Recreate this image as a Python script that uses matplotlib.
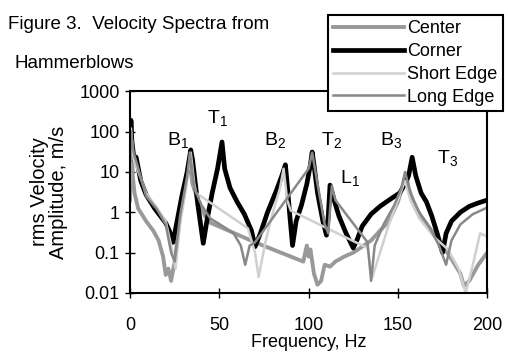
import matplotlib.pyplot as plt

plt.rcParams['font.family'] = ['Liberation Sans', 'DejaVu Sans']
plt.rcParams['mathtext.default'] = 'regular'

# Frequency (Hz) and rms velocity amplitude
center_f = [0, 0.3, 0.7, 1, 1.5, 2.5, 4.5, 9, 13, 16, 18.5, 20, 21.5, 23, 25, 28, 31,
            33, 35, 38, 42, 45, 70, 97, 99, 100, 101, 103, 105, 107, 109, 112, 115,
            120, 125, 130, 135, 140, 145, 150, 153, 154.5, 156, 160, 165, 170, 175,
            180, 185, 187, 190, 195, 200]
center_v = [2, 30, 5, 60, 8, 3, 1.25, 0.6, 0.35, 0.2, 0.08, 0.028, 0.04, 0.02, 0.06,
            0.8, 5, 20, 5, 2, 0.8, 0.55, 0.18, 0.06, 0.15, 0.08, 0.12, 0.03, 0.016,
            0.02, 0.05, 0.045, 0.06, 0.08, 0.1, 0.14, 0.2, 0.35, 0.6, 1.8, 5, 9, 4,
            1.2, 0.6, 0.3, 0.15, 0.07, 0.03, 0.015, 0.02, 0.05, 0.1]

corner_f = [0, 0.5, 1, 2, 3.4, 6, 9, 14, 20, 22, 24, 26, 29, 32, 34, 35, 38, 41, 43,
            46, 49, 51.5, 53, 56, 60, 64, 68, 70, 73, 77, 82, 85, 87, 88, 89.5, 91,
            93, 96, 99, 101, 102, 103, 105, 108, 110, 111, 112, 114, 117, 121, 125,
            127, 130, 135, 140, 145, 151, 154, 156, 158, 160, 163, 166, 169, 172,
            175, 177, 180, 185, 190, 195, 200]
corner_v = [20, 190, 60, 25, 23, 6, 2.7, 1.2, 0.54, 0.35, 0.18, 0.5, 2.5, 10, 35, 20,
            1.5, 0.17, 0.6, 3, 12, 55, 12, 4, 1.8, 0.9, 0.35, 0.14, 0.3, 1, 3.5, 8,
            15, 5, 0.8, 0.15, 0.6, 1.5, 5, 15, 31, 15, 3, 0.6, 0.27, 0.8, 4.7, 2.2,
            0.8, 0.3, 0.13, 0.2, 0.45, 0.9, 1.4, 2, 3, 5, 8, 23, 8, 3, 1.8, 0.8, 0.3,
            0.1, 0.3, 0.6, 1, 1.4, 1.7, 2]

short_f = [0, 0.5, 2, 4, 9, 15, 20, 23, 25.5, 28, 32, 34, 36, 37, 66, 70, 72, 76, 80,
           84, 86, 88, 90, 133, 135.5, 140, 145, 150, 154, 157, 162, 170, 178, 184,
           188, 192, 196, 200]
short_v = [5, 120, 20, 12, 3, 1.3, 0.6, 0.15, 0.04, 0.5, 6, 30, 5, 3, 0.4, 0.1,
           0.025, 0.2, 1, 4, 12, 2, 1.1, 0.13, 0.023, 0.1, 0.5, 2, 6, 2, 0.7, 0.25,
           0.12, 0.04, 0.01, 0.05, 0.3, 0.25]

long_f = [0, 0.5, 2, 4, 9, 15, 20, 23, 25, 28, 32, 33.5, 36, 40, 45, 52, 58, 62, 64.5,
          67, 70, 100, 102, 105, 109, 111, 113, 115, 133, 135, 137, 142, 148, 152,
          154, 157, 162, 168, 173, 177, 180, 185, 192, 200]
long_v = [10, 100, 30, 15, 2.5, 1.2, 0.5, 0.1, 0.06, 0.8, 8, 30, 4, 1.5, 0.7, 0.45,
          0.3, 0.15, 0.05, 0.15, 0.18, 12, 30, 5, 0.5, 0.3, 4.5, 2, 0.18, 0.02, 0.15,
          0.5, 1.5, 4, 10, 3, 1, 0.4, 0.15, 0.05, 0.2, 0.5, 0.9, 1.3]

peak_labels = ['B$_1$', 'T$_1$', 'B$_2$', 'T$_2$', 'L$_1$', 'B$_3$', 'T$_3$']
peak_f = [27, 49, 81, 113, 123, 146, 178]
peak_v = [60, 215, 60, 60, 7, 60, 22]

fig = plt.figure(figsize=(5.08, 3.56), dpi=100)
ax = fig.add_axes([0.256, 0.177, 0.703, 0.567])

ax.plot(center_f, center_v, color='#999999', lw=2.8, label='Center')
ax.plot(corner_f, corner_v, color='black', lw=3.4, label='Corner')
ax.plot(short_f, short_v, color='#d0d0d0', lw=1.8, label='Short Edge')
ax.plot(long_f, long_v, color='#888888', lw=1.8, label='Long Edge')

for lab, f, v in zip(peak_labels, peak_f, peak_v):
    ax.text(f, v, lab, fontsize=14, ha='center', va='center')

ax.set_yscale('log')
ax.set_ylim(0.01, 1000)
ax.set_xlim(0, 200)
ax.set_yticks([0.01, 0.1, 1, 10, 100, 1000])
ax.set_yticklabels(['0.01', '0.1', '1', '10', '100', '1000'])
ax.minorticks_off()
ax.set_xticks([0, 50, 100, 150, 200])
ax.tick_params(axis='both', direction='inout', length=7, width=1, labelsize=13)
ax.tick_params(axis='x', pad=14)
ax.tick_params(axis='y', pad=4)
for s in ax.spines.values():
    s.set_linewidth(1.5)

ax.set_xlabel('Frequency, Hz', fontsize=13, labelpad=0)
ax.set_ylabel('rms Velocity\nAmplitude, m/s', fontsize=14.5, labelpad=8,
              linespacing=1.0)

fig.text(8 / 508, 1 - 29 / 356, 'Figure 3.  Velocity Spectra from', fontsize=13.5,
         va='baseline')
fig.text(14 / 508, 1 - 68 / 356, 'Hammerblows', fontsize=13.5, va='baseline')

leg = ax.legend(loc='upper left', bbox_to_anchor=(328 / 508, 1 - 15 / 356),
                bbox_transform=fig.transFigure, fontsize=13, handlelength=3.9,
                handletextpad=0.2, labelspacing=0.32, borderpad=0.3,
                borderaxespad=0, fancybox=False, framealpha=1)
leg.get_frame().set_edgecolor('black')
leg.get_frame().set_linewidth(1.5)

fig.savefig('out.png', dpi=100)
